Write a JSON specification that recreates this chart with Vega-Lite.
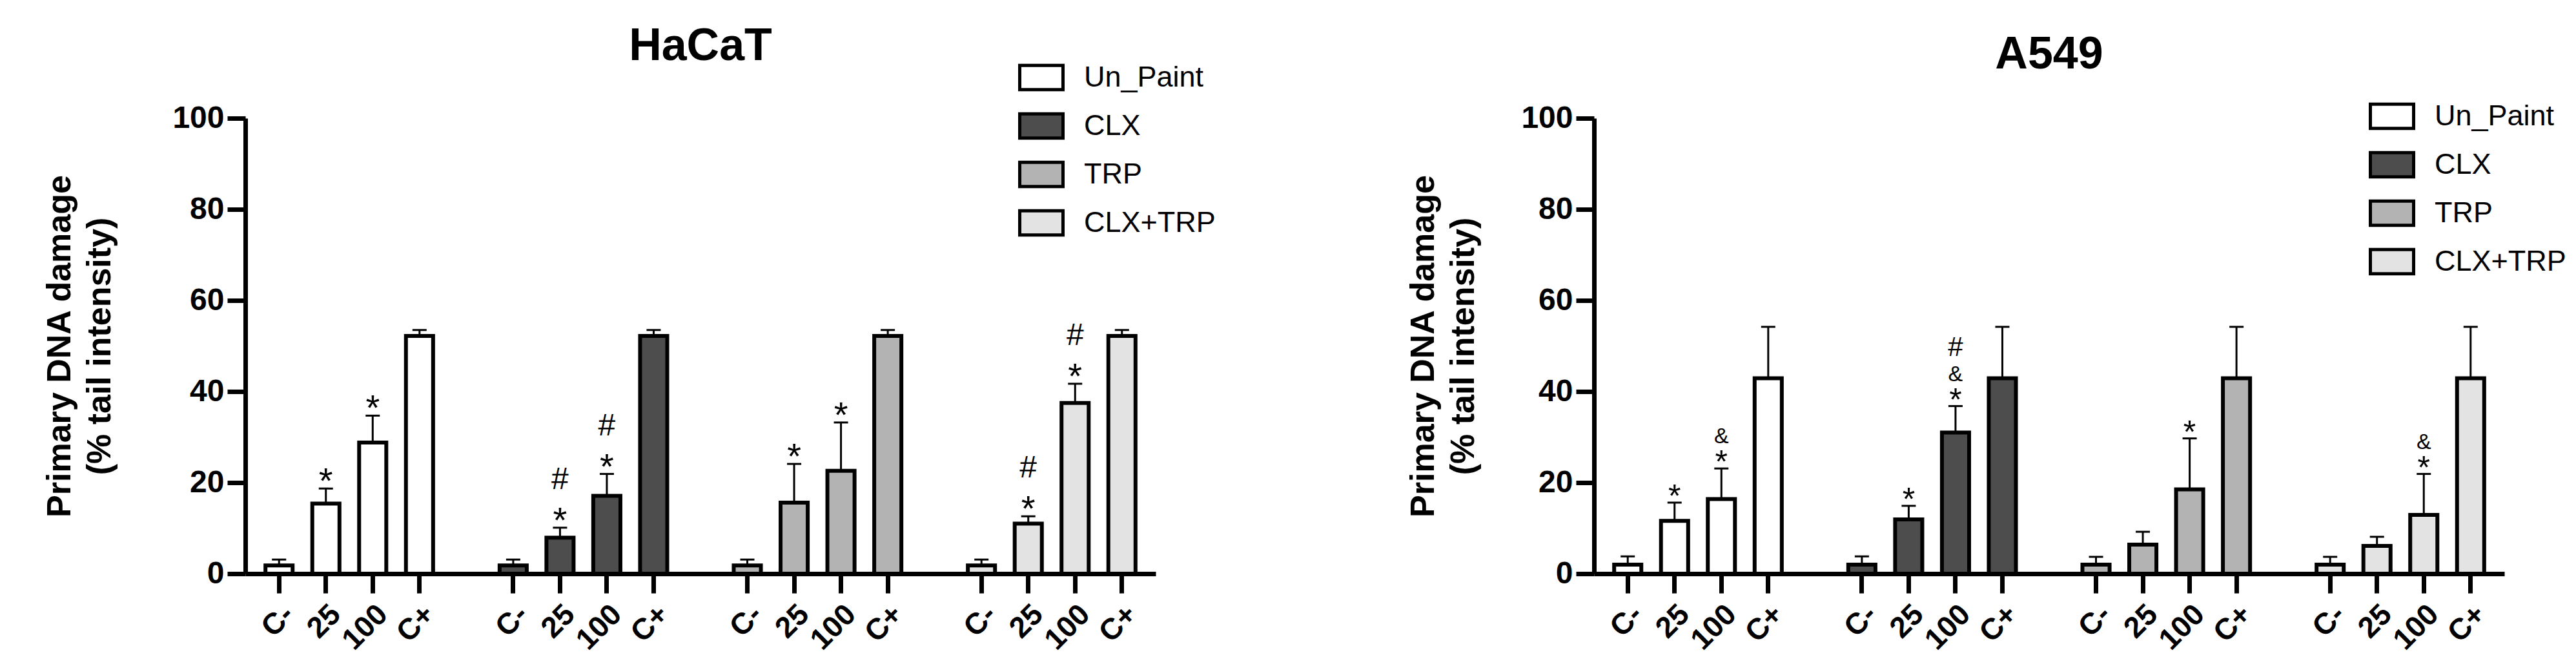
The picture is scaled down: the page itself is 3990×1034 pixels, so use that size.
{
  "$schema": "https://vega.github.io/schema/vega-lite/v6.json",
  "background": "white",
  "padding": {"left": 66, "top": 37, "right": 5, "bottom": 5},
  "data": {"values": [
    {"cell":"HaCaT","treat":"Un_Paint","dose":"C-","bar":"Un_Paint|C-","mean":1.8,"upper":3.1,"s1":"","s2":"","s3":""},
    {"cell":"HaCaT","treat":"Un_Paint","dose":"25","bar":"Un_Paint|25","mean":15.4,"upper":18.7,"s1":"*","s2":"","s3":""},
    {"cell":"HaCaT","treat":"Un_Paint","dose":"100","bar":"Un_Paint|100","mean":28.8,"upper":34.7,"s1":"*","s2":"","s3":""},
    {"cell":"HaCaT","treat":"Un_Paint","dose":"C+","bar":"Un_Paint|C+","mean":52.2,"upper":53.5,"s1":"","s2":"","s3":""},
    {"cell":"HaCaT","treat":"CLX","dose":"C-","bar":"CLX|C-","mean":1.8,"upper":3.1,"s1":"","s2":"","s3":""},
    {"cell":"HaCaT","treat":"CLX","dose":"25","bar":"CLX|25","mean":7.9,"upper":10.1,"s1":"*","s2":"#","s3":""},
    {"cell":"HaCaT","treat":"CLX","dose":"100","bar":"CLX|100","mean":17.1,"upper":21.9,"s1":"*","s2":"#","s3":""},
    {"cell":"HaCaT","treat":"CLX","dose":"C+","bar":"CLX|C+","mean":52.2,"upper":53.5,"s1":"","s2":"","s3":""},
    {"cell":"HaCaT","treat":"TRP","dose":"C-","bar":"TRP|C-","mean":1.8,"upper":3.1,"s1":"","s2":"","s3":""},
    {"cell":"HaCaT","treat":"TRP","dose":"25","bar":"TRP|25","mean":15.6,"upper":24.1,"s1":"*","s2":"","s3":""},
    {"cell":"HaCaT","treat":"TRP","dose":"100","bar":"TRP|100","mean":22.6,"upper":33.2,"s1":"*","s2":"","s3":""},
    {"cell":"HaCaT","treat":"TRP","dose":"C+","bar":"TRP|C+","mean":52.2,"upper":53.5,"s1":"","s2":"","s3":""},
    {"cell":"HaCaT","treat":"CLX+TRP","dose":"C-","bar":"CLX+TRP|C-","mean":1.8,"upper":3.1,"s1":"","s2":"","s3":""},
    {"cell":"HaCaT","treat":"CLX+TRP","dose":"25","bar":"CLX+TRP|25","mean":11.0,"upper":12.6,"s1":"*","s2":"#","s3":""},
    {"cell":"HaCaT","treat":"CLX+TRP","dose":"100","bar":"CLX+TRP|100","mean":37.5,"upper":41.7,"s1":"*","s2":"#","s3":""},
    {"cell":"HaCaT","treat":"CLX+TRP","dose":"C+","bar":"CLX+TRP|C+","mean":52.2,"upper":53.5,"s1":"","s2":"","s3":""},
    {"cell":"A549","treat":"Un_Paint","dose":"C-","bar":"Un_Paint|C-","mean":2.0,"upper":3.8,"s1":"","s2":"","s3":""},
    {"cell":"A549","treat":"Un_Paint","dose":"25","bar":"Un_Paint|25","mean":11.6,"upper":15.6,"s1":"*","s2":"","s3":""},
    {"cell":"A549","treat":"Un_Paint","dose":"100","bar":"Un_Paint|100","mean":16.4,"upper":23.1,"s1":"*","s2":"&","s3":""},
    {"cell":"A549","treat":"Un_Paint","dose":"C+","bar":"Un_Paint|C+","mean":42.9,"upper":54.2,"s1":"","s2":"","s3":""},
    {"cell":"A549","treat":"CLX","dose":"C-","bar":"CLX|C-","mean":2.0,"upper":3.8,"s1":"","s2":"","s3":""},
    {"cell":"A549","treat":"CLX","dose":"25","bar":"CLX|25","mean":11.9,"upper":14.9,"s1":"*","s2":"","s3":""},
    {"cell":"A549","treat":"CLX","dose":"100","bar":"CLX|100","mean":31.0,"upper":36.8,"s1":"*","s2":"&","s3":"#"},
    {"cell":"A549","treat":"CLX","dose":"C+","bar":"CLX|C+","mean":42.9,"upper":54.2,"s1":"","s2":"","s3":""},
    {"cell":"A549","treat":"TRP","dose":"C-","bar":"TRP|C-","mean":2.0,"upper":3.7,"s1":"","s2":"","s3":""},
    {"cell":"A549","treat":"TRP","dose":"25","bar":"TRP|25","mean":6.4,"upper":9.2,"s1":"","s2":"","s3":""},
    {"cell":"A549","treat":"TRP","dose":"100","bar":"TRP|100","mean":18.5,"upper":29.7,"s1":"*","s2":"","s3":""},
    {"cell":"A549","treat":"TRP","dose":"C+","bar":"TRP|C+","mean":42.9,"upper":54.2,"s1":"","s2":"","s3":""},
    {"cell":"A549","treat":"CLX+TRP","dose":"C-","bar":"CLX+TRP|C-","mean":2.0,"upper":3.7,"s1":"","s2":"","s3":""},
    {"cell":"A549","treat":"CLX+TRP","dose":"25","bar":"CLX+TRP|25","mean":6.1,"upper":8.1,"s1":"","s2":"","s3":""},
    {"cell":"A549","treat":"CLX+TRP","dose":"100","bar":"CLX+TRP|100","mean":12.9,"upper":21.9,"s1":"*","s2":"&","s3":""},
    {"cell":"A549","treat":"CLX+TRP","dose":"C+","bar":"CLX+TRP|C+","mean":42.9,"upper":54.2,"s1":"","s2":"","s3":""}
  ]},
  "config": {
    "view": {"stroke": null},
    "font": "Liberation Sans",
    "axis": {"domainColor": "black", "domainWidth": 7, "tickColor": "black", "tickWidth": 7, "labelColor": "black", "labelFontWeight": "bold", "titleColor": "black", "titleFontWeight": "bold", "grid": false, "labelFont": "Liberation Sans", "titleFont": "Liberation Sans"},
    "title": {"fontSize": 70, "fontWeight": "bold", "color": "black", "font": "Liberation Sans", "anchor": "middle"},
    "legend": {"labelFont": "Liberation Sans", "labelFontSize": 45, "labelColor": "black", "labelLimit": 600}
  },
  "spacing": 295,
  "resolve": {"scale": {"color": "independent"}, "legend": {"color": "independent"}},
  "hconcat": [
    {
      "title": {"text": "HaCaT", "offset": -24},
      "width": 1410,
      "height": 705,
      "transform": [{"filter": "datum.cell === 'HaCaT'"}],
      "encoding": {
        "x": {"field": "bar", "type": "nominal", "title": null,
          "scale": {"domain": ["Un_Paint|C-","Un_Paint|25","Un_Paint|100","Un_Paint|C+","gap1","CLX|C-","CLX|25","CLX|100","CLX|C+","gap2","TRP|C-","TRP|25","TRP|100","TRP|C+","gap3","CLX+TRP|C-","CLX+TRP|25","CLX+TRP|100","CLX+TRP|C+"], "paddingInner": 0, "paddingOuter": 0.22},
          "axis": {"values": ["Un_Paint|C-","Un_Paint|25","Un_Paint|100","Un_Paint|C+","CLX|C-","CLX|25","CLX|100","CLX|C+","TRP|C-","TRP|25","TRP|100","TRP|C+","CLX+TRP|C-","CLX+TRP|25","CLX+TRP|100","CLX+TRP|C+"], "labelExpr": "split(datum.value, '|')[1]", "labelAngle": -45, "labelFontSize": 46, "tickSize": 30, "labelPadding": 10}
        },
        "y": {"field": "mean", "type": "quantitative", "title": ["Primary DNA damage", "(% tail intensity)"],
          "scale": {"domain": [0, 100], "nice": false},
          "axis": {"values": [0, 20, 40, 60, 80, 100], "labelFontSize": 48, "tickSize": 28, "labelPadding": 5, "titleFontSize": 52, "titleLineHeight": 62, "titlePadding": 85}
        }
      },
      "layer": [
        {"mark": {"type": "rule", "color": "black", "strokeWidth": 3}, "encoding": {"y2": {"field": "upper"}}},
        {"mark": {"type": "tick", "color": "black", "thickness": 3, "size": 22, "opacity": 1},
         "encoding": {"y": {"field": "upper", "type": "quantitative", "title": ["Primary DNA damage", "(% tail intensity)"]}}},
        {"mark": {"type": "bar", "stroke": "black", "strokeWidth": 6, "width": {"band": 0.58}},
         "encoding": {"color": {"field": "treat", "type": "nominal",
           "scale": {"domain": ["Un_Paint", "CLX", "TRP", "CLX+TRP"], "range": ["#ffffff", "#4d4d4d", "#b3b3b3", "#e3e3e3"]},
           "legend": {"title": null, "orient": "none", "legendX": 1197, "legendY": -99, "padding": 0, "symbolType": "M-1,-0.56H1V0.56H-1Z", "symbolSize": 4489, "symbolStrokeColor": "black", "symbolStrokeWidth": 5, "symbolOpacity": 1, "labelOffset": 30, "rowPadding": 10}}}},
        {"mark": {"type": "text", "fontSize": 56, "baseline": "alphabetic", "dy": 7, "color": "black"},
         "encoding": {"y": {"field": "upper", "type": "quantitative", "title": ["Primary DNA damage", "(% tail intensity)"]}, "text": {"field": "s1"}}},
        {"mark": {"type": "text", "fontSize": 48, "baseline": "alphabetic", "dy": -60, "color": "black"},
         "encoding": {"y": {"field": "upper", "type": "quantitative", "title": ["Primary DNA damage", "(% tail intensity)"]}, "text": {"field": "s2"}}}
      ]
    },
    {
      "title": {"text": "A549", "offset": 23},
      "width": 1410,
      "height": 705,
      "transform": [{"filter": "datum.cell === 'A549'"}],
      "encoding": {
        "x": {"field": "bar", "type": "nominal", "title": null,
          "scale": {"domain": ["Un_Paint|C-","Un_Paint|25","Un_Paint|100","Un_Paint|C+","gap1","CLX|C-","CLX|25","CLX|100","CLX|C+","gap2","TRP|C-","TRP|25","TRP|100","TRP|C+","gap3","CLX+TRP|C-","CLX+TRP|25","CLX+TRP|100","CLX+TRP|C+"], "paddingInner": 0, "paddingOuter": 0.22},
          "axis": {"values": ["Un_Paint|C-","Un_Paint|25","Un_Paint|100","Un_Paint|C+","CLX|C-","CLX|25","CLX|100","CLX|C+","TRP|C-","TRP|25","TRP|100","TRP|C+","CLX+TRP|C-","CLX+TRP|25","CLX+TRP|100","CLX+TRP|C+"], "labelExpr": "split(datum.value, '|')[1]", "labelAngle": -45, "labelFontSize": 46, "tickSize": 30, "labelPadding": 10}
        },
        "y": {"field": "mean", "type": "quantitative", "title": ["Primary DNA damage", "(% tail intensity)"],
          "scale": {"domain": [0, 100], "nice": false},
          "axis": {"values": [0, 20, 40, 60, 80, 100], "labelFontSize": 48, "tickSize": 28, "labelPadding": 5, "titleFontSize": 52, "titleLineHeight": 62, "titlePadding": 62}
        }
      },
      "layer": [
        {"mark": {"type": "rule", "color": "black", "strokeWidth": 3}, "encoding": {"y2": {"field": "upper"}}},
        {"mark": {"type": "tick", "color": "black", "thickness": 3, "size": 22, "opacity": 1},
         "encoding": {"y": {"field": "upper", "type": "quantitative", "title": ["Primary DNA damage", "(% tail intensity)"]}}},
        {"mark": {"type": "bar", "stroke": "black", "strokeWidth": 6, "width": {"band": 0.58}},
         "encoding": {"color": {"field": "treat", "type": "nominal",
           "scale": {"domain": ["Un_Paint", "CLX", "TRP", "CLX+TRP"], "range": ["#ffffff", "#4d4d4d", "#b3b3b3", "#e3e3e3"]},
           "legend": {"title": null, "orient": "none", "legendX": 1200, "legendY": -39, "padding": 0, "symbolType": "M-1,-0.56H1V0.56H-1Z", "symbolSize": 4489, "symbolStrokeColor": "black", "symbolStrokeWidth": 5, "symbolOpacity": 1, "labelOffset": 30, "rowPadding": 10}}}},
        {"mark": {"type": "text", "fontSize": 50, "baseline": "alphabetic", "dy": 7, "color": "black"},
         "encoding": {"y": {"field": "upper", "type": "quantitative", "title": ["Primary DNA damage", "(% tail intensity)"]}, "text": {"field": "s1"}}},
        {"mark": {"type": "text", "fontSize": 34, "baseline": "alphabetic", "dy": -39, "color": "black"},
         "encoding": {"y": {"field": "upper", "type": "quantitative", "title": ["Primary DNA damage", "(% tail intensity)"]}, "text": {"field": "s2"}}},
        {"mark": {"type": "text", "fontSize": 42, "baseline": "alphabetic", "dy": -78, "color": "black"},
         "encoding": {"y": {"field": "upper", "type": "quantitative", "title": ["Primary DNA damage", "(% tail intensity)"]}, "text": {"field": "s3"}}}
      ]
    }
  ]
}
